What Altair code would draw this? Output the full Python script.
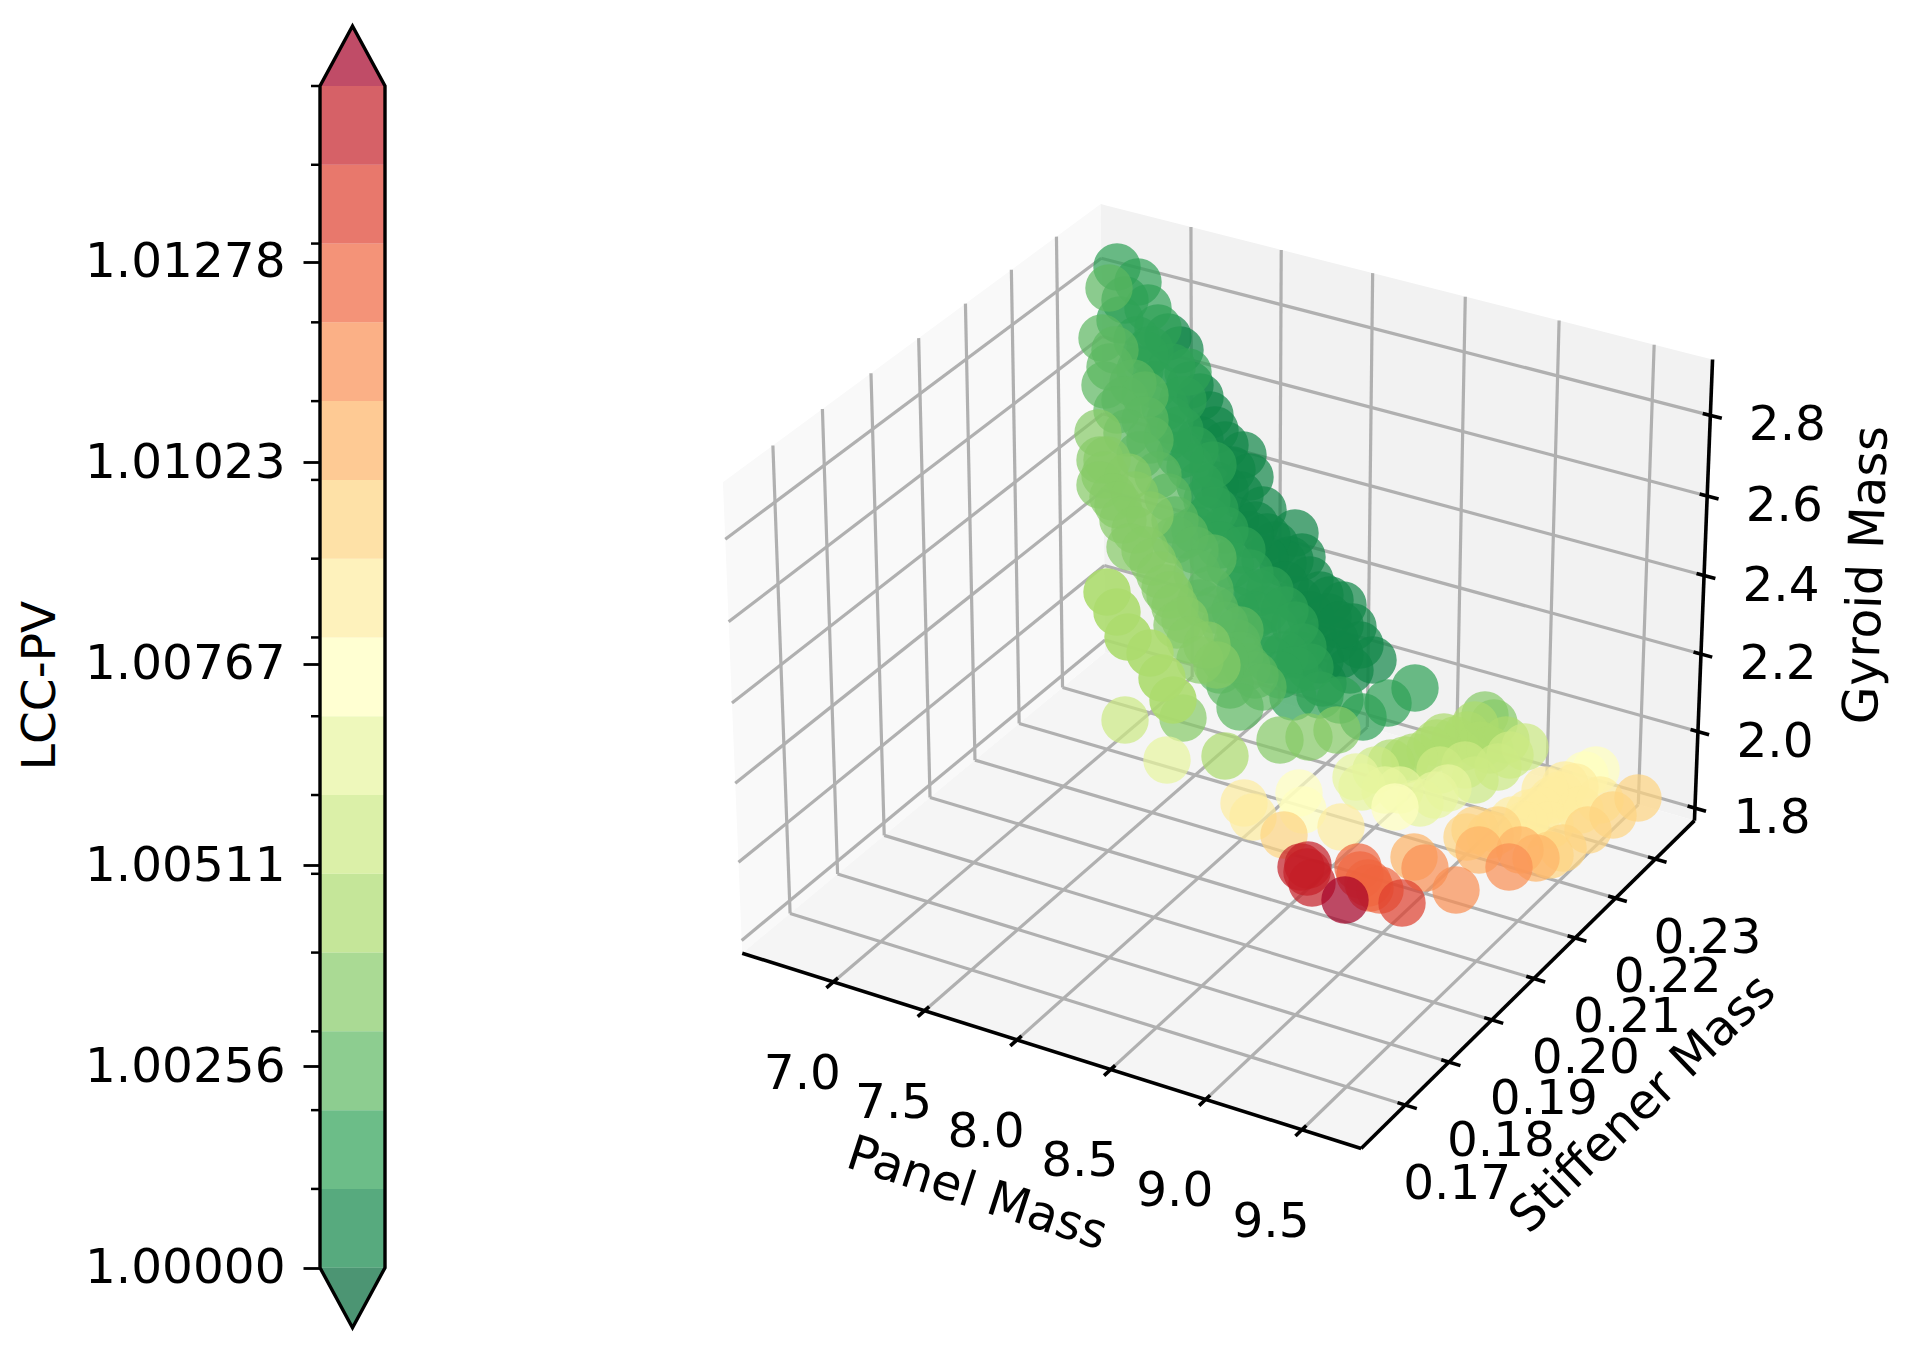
import altair as alt
import numpy as np
import pandas as pd

# ---------- data ----------
X_TICKS = [7.0, 7.5, 8.0, 8.5, 9.0, 9.5]
Y_TICKS = [0.17, 0.18, 0.19, 0.20, 0.21, 0.22, 0.23]
Z_TICKS = [1.8, 2.0, 2.2, 2.4, 2.6, 2.8]
X_LIM = (6.494, 9.804)
Y_LIM = (0.1601, 0.2400)
Z_LIM = (1.767, 2.937)

CB_MAJOR = [1.00000, 1.00256, 1.00511, 1.00767, 1.01023, 1.01278]
VMIN, VMAX = 1.0, 1.01501
N_BANDS = 15
STEP = (VMAX - VMIN) / N_BANDS
LEVELS = [VMIN + k * STEP for k in range(N_BANDS + 1)]
COLS = ["#006837", "#108647", "#2DA155", "#5CB861", "#86CB66", "#ACDC6E", "#CCE983", "#E7F59E", "#FFFFBF",
        "#FEEC9F", "#FED481", "#FDB466", "#F98E52", "#F0653F", "#DE3F2E", "#C41E27", "#A50026"]

# projected point positions (view-plane x, y), one pair of lists per colour band, back to front
b1_x = [1168,1180,1190,1200,1210,1215,1225,1243,1232,1250,1240,1263,1255,1295,1275,1302,1290,1283,1267,1265,1250,1235,1225,1215,1200,
        1310,1320,1343,1353,1328,1335,1313,1340,1360,1350,1323,1373,1298,1285,1310,1330,1340,1300,1320]
b1_y = [337,350,385,397,415,430,445,455,470,477,495,510,525,533,545,557,560,563,537,560,535,520,490,485,440,
        580,595,605,627,617,640,637,655,645,670,683,660,600,585,615,600,625,655,660]
b2_x = [1117,1138,1125,1120,1148,1158,1137,1150,1140,1188,1172,1145,1155,1165,1183,1170,1180,1195,1213,1190,1207,1200,1180,1207,1215,1195,1225,1220,
        1242,1250,1230,1240,1258,1265,1275,1270,1255,1285,1235,1255,1295,1303,1285,1270,1310,1295,1280,
        1415,1388,1363,1293,1167,1320,1340]
b2_y = [267,282,300,320,308,328,340,350,370,372,367,355,385,407,400,420,430,450,465,467,500,485,455,520,510,530,530,545,
        550,573,565,590,593,610,630,590,615,610,610,640,625,647,655,660,667,670,675,
        688,703,717,697,437,695,700]
b3_x = [1102,1115,1110,1105,1133,1125,1145,1117,1145,1127,1150,1140,1158,1168,1175,1185,1175,1195,1213,1197,1210,1200,1215,1225,1237,1240,1247,1255,1240,1263,1230,1225,1220,1240,1109]
b3_y = [338,350,367,385,383,400,395,410,420,433,440,455,475,497,520,535,540,550,558,573,590,603,610,625,643,630,667,675,655,687,685,660,670,707,288]
b4_x = [1098,1100,1107,1105,1100,1128,1113,1118,1135,1123,1135,1150,1130,1145,1153,1160,1165,1170,1175,1177,1185,1190,1207,1200,1217,1280,1309,1337,1183]
b4_y = [433,460,460,475,485,477,497,505,495,520,530,515,547,550,562,575,588,595,607,625,620,640,645,660,665,740,737,730,718]
b4b_x = [1485,1494]
b4b_y = [715,723]
b5_x = [1225,1475,1467,1506,1464,1455,1444,1437,1430,1414,1405,1391,1480,1490]
b5_y = [756,725,735,740,747,740,737,743,750,757,760,763,745,750]
b5s_x = [1173,1162,1150,1128,1117,1107]
b5s_y = [700,678,653,637,612,592]
b6_x = [1125,1525,1376,1498,1475,1510,1440,1465]
b6_y = [720,747,770,767,780,755,770,765]
b7_x = [1167,1356,1362,1448,1420,1400,1385,1435]
b7_y = [760,777,787,788,803,790,790,795]
b8_x = [1299,1303,1395,1596,1585]
b8_y = [793,810,807,770,775]
b9_x = [1244,1253,1341,1575,1565,1552,1560,1545,1540,1529,1513,1525,1580,1600,1550]
b9_y = [803,817,827,787,785,800,795,790,810,813,820,825,810,800,825]
b10_x = [1284,1498,1490,1467,1475,1638,1613,1588,1563,1550]
b10_y = [835,830,835,837,830,798,815,830,848,855]
b11_x = [1479,1520,1536,1414]
b11_y = [850,850,858,857]
b12_x = [1509,1425,1456]
b12_y = [867,868,890]
b13_x = [1358,1360,1368,1370,1380]
b13_y = [867,875,883,888,890]
b14_x = [1402]
b14_y = [903]
b15_x = [1301,1308,1307,1312]
b15_y = [867,865,872,883]
b16_x = [1345]
b16_y = [900]
# band, x list, y list, point opacity (front strand is drawn stronger in the picture)
GROUPS = [(1,b1_x,b1_y,0.7),(2,b2_x,b2_y,0.7),(3,b3_x,b3_y,0.7),(4,b4_x,b4_y,0.7),(4,b4b_x,b4b_y,0.7),(5,b5_x,b5_y,0.7),
          (5,b5s_x,b5s_y,0.9),(6,b6_x,b6_y,0.7),(7,b7_x,b7_y,0.7),
          (8,b8_x,b8_y,0.7),(9,b9_x,b9_y,0.7),(10,b10_x,b10_y,0.7),(11,b11_x,b11_y,0.7),(12,b12_x,b12_y,0.7),(13,b13_x,b13_y,0.7),
          (14,b14_x,b14_y,0.7),(15,b15_x,b15_y,0.7),(16,b16_x,b16_y,0.7)]

# ---------- layout ----------
CANVAS_W, CANVAS_H = 1894, 1330
OX, OY = 8, 8
# picture positions of the 3D box corners used to fit the view
BOX_FIT = [((0,0,0),(742,950)), ((1,0,0),(1361,1151)), ((1,1,0),(1695,818)),
           ((1,1,1),(1712,361)), ((0,1,1),(1101,201)), ((0,0,1),(723,487))]
Z_STRETCH = 0.77
CB_LEFT, CB_RIGHT, CB_TOP, CB_BOTTOM = 320, 385, 86, 1267.7
BAR_PX = (CB_BOTTOM - CB_TOP) / (VMAX - VMIN)
TIP = 60 / BAR_PX
FONT = "DejaVu Sans"
FS = 48.5
CB_FS = 48.5
TITLE_FS = 48.8


def raw(u, v, w):
    el, az = np.radians(30), np.radians(-60)
    n = np.array([np.cos(el)*np.cos(az), np.cos(el)*np.sin(az), np.sin(el)])
    e = 10 * n
    ux = np.cross([0, 0, 1], n); ux = ux / np.linalg.norm(ux)
    vx = np.cross(n, ux)
    p = np.array([u-.5, v-.5, (w-.5)*Z_STRETCH])
    d = np.dot(e - p, n)
    return np.dot(p, ux) / d, np.dot(p, vx) / d

A = []; bx = []; by = []
for c, s in BOX_FIT:
    a, b = raw(*c)
    A.append((a, b)); bx.append(s[0]); by.append(s[1])
A = np.array(A)
ax_, ox_ = np.linalg.lstsq(np.c_[A[:, 0], np.ones(6)], np.array(bx), rcond=None)[0]
ay_, oy_ = np.linalg.lstsq(np.c_[A[:, 1], np.ones(6)], np.array(by), rcond=None)[0]


def unit(u, v, w):
    a, b = raw(u, v, w)
    return float(ax_*a + ox_), float(ay_*b + oy_)


def norm(val, lim):
    return (val - lim[0]) / (lim[1] - lim[0])


SX = alt.Scale(domain=[OX, OX + CANVAS_W], range=[0, CANVAS_W], nice=False, zero=False)
SY = alt.Scale(domain=[OY, OY + CANVAS_H], range=[0, CANVAS_H], nice=False, zero=False)
CX = alt.Scale(domain=[0, 1], range=[CB_LEFT - OX, CB_RIGHT - OX], nice=False, zero=False)
CY = alt.Scale(domain=[VMIN, VMAX], range=[CB_BOTTOM - OY, CB_TOP - OY], nice=False, zero=False)


def px(f):
    return alt.X(f, type="quantitative", scale=SX, axis=None)


def py(f):
    return alt.Y(f, type="quantitative", scale=SY, axis=None)


def cx(f):
    return alt.X(f, type="quantitative", scale=CX, axis=None)


def cy(f):
    return alt.Y(f, type="quantitative", scale=CY, axis=None)


def area_of(verts):
    verts = np.array(verts, dtype=float)
    xs = np.unique(verts[:, 0])
    rows = []
    for x in xs:
        hits = []
        for i in range(len(verts)):
            p, q = verts[i], verts[(i+1) % len(verts)]
            lo, hi = min(p[0], q[0]), max(p[0], q[0])
            if lo <= x <= hi:
                if hi == lo:
                    hits += [p[1], q[1]]
                else:
                    hits.append(p[1] + (q[1]-p[1])*(x-p[0])/(q[0]-p[0]))
        rows.append({"x": x, "y": min(hits), "y2": max(hits)})
    return pd.DataFrame(rows)


def pane(corners, color):
    return alt.Chart(area_of([unit(*c) for c in corners])).mark_area(color=color, orient="vertical", opacity=1).encode(
        x=px("x"), y=py("y"), y2=alt.Y2("y2"))


def segs(pairs):
    rows = []
    for a, b in pairs:
        pa, pb = unit(*a), unit(*b)
        rows.append({"x": pa[0], "y": pa[1], "x2": pb[0], "y2": pb[1]})
    return pd.DataFrame(rows)


def rules(pairs, color, w):
    return alt.Chart(segs(pairs)).mark_rule(color=color, strokeWidth=w).encode(
        x=px("x"), y=py("y"), x2=alt.X2("x2"), y2=alt.Y2("y2"))


xu = [norm(v, X_LIM) for v in X_TICKS]
yu = [norm(v, Y_LIM) for v in Y_TICKS]
zu = [norm(v, Z_LIM) for v in Z_TICKS]

layers = [
    pane([(0,0,0),(0,1,0),(0,1,1),(0,0,1)], "#F9F9F9"),
    pane([(0,1,0),(1,1,0),(1,1,1),(0,1,1)], "#F2F2F2"),
    pane([(0,0,0),(1,0,0),(1,1,0),(0,1,0)], "#F5F5F5"),
]
grid = []
for x in xu:
    grid += [((x,0,0),(x,1,0)), ((x,1,0),(x,1,1))]
for y in yu:
    grid += [((0,y,0),(1,y,0)), ((0,y,0),(0,y,1))]
for z in zu:
    grid += [((0,0,z),(0,1,z)), ((0,1,z),(1,1,z))]
layers.append(rules(grid, "#B0B0B0", 3.2))

ticks = []
for x in xu:
    ticks.append(((x,0.012,0),(x,-0.018,0)))
for y in yu:
    ticks.append(((1-0.012,y,0),(1+0.018,y,0)))
for z in zu:
    ticks.append(((1-0.012,1,z),(1+0.018,1,z)))
layers.append(rules(ticks + [((0,0,0),(1,0,0)), ((1,0,0),(1,1,0)), ((1,1,0),(1,1,1))], "black", 3.6))

rows = []
for b, xs, ys, al in GROUPS:
    for x, y in zip(xs, ys):
        rows.append({"x": x, "y": y, "lcc": VMIN + (b - 0.5) * STEP, "alpha": al})
pts = pd.DataFrame(rows)
pts["o"] = range(len(pts))
layers.append(alt.Chart(pts).mark_circle(size=2250).encode(
    x=px("x"), y=py("y"), order="o:Q",
    opacity=alt.Opacity("alpha:Q", scale=None),
    color=alt.Color("lcc:Q", scale=alt.Scale(type="threshold", domain=LEVELS, range=COLS), legend=None)))


def labels(txts, poss, dx, dy):
    return alt.Chart(pd.DataFrame({"t": txts, "x": [p[0]+dx for p in poss], "y": [p[1]+dy for p in poss]})).mark_text(
        font=FONT, fontSize=FS, color="black", align="center", baseline="middle").encode(x=px("x"), y=py("y"), text="t:N")


layers.append(labels([f"{v:.1f}" for v in X_TICKS], [unit(x,0,0) for x in xu], -31, 92))
layers.append(labels([f"{v:.2f}" for v in Y_TICKS], [unit(1,y,0) for y in yu], 52, 79))
layers.append(labels([f"{v:.1f}" for v in Z_TICKS], [unit(1,1,z) for z in zu], 77, 10))


def title(t, x, y, ang):
    return alt.Chart(pd.DataFrame({"t": [t], "x": [x], "y": [y]})).mark_text(
        font=FONT, fontSize=TITLE_FS, color="black", align="center", baseline="middle", angle=ang).encode(
        x=px("x"), y=py("y"), text="t:N")


layers.append(title("Panel Mass", 977, 1194, 18))
layers.append(title("Stiffener Mass", 1643, 1104, 316))
layers.append(title("Gyroid Mass", 1867, 575, 272))

# ---------- colour bar ----------
bands = pd.DataFrame({"lo": LEVELS[:-1], "hi": LEVELS[1:]})
bands["lcc"] = (bands.lo + bands.hi) / 2
bands["a"] = 0.0
bands["b"] = 1.0
layers.append(alt.Chart(bands).mark_rect(opacity=0.7).encode(
    x=cx("a"), x2=alt.X2("b"), y=cy("lo"), y2=alt.Y2("hi"),
    color=alt.Color("lcc:Q", scale=alt.Scale(type="threshold", domain=LEVELS, range=COLS), legend=None)))

for edge, tip, col in [(VMAX, VMAX + TIP, COLS[-1]), (VMIN, VMIN - TIP, COLS[0])]:
    tri = pd.DataFrame({"a": [0, 0.5, 1], "y": [edge, tip, edge], "y2": [edge] * 3})
    layers.append(alt.Chart(tri).mark_area(color=col, opacity=0.7, orient="vertical").encode(
        x=cx("a"), y=cy("y"), y2=alt.Y2("y2")))

outline = pd.DataFrame({
    "a": [0, 0.5, 1, 1, 0.5, 0, 0],
    "y": [VMIN, VMIN - TIP, VMIN, VMAX, VMAX + TIP, VMAX, VMIN],
    "o": range(7)})
layers.append(alt.Chart(outline).mark_line(color="black", strokeWidth=3.4).encode(
    x=cx("a"), y=cy("y"), order="o:Q"))

minor = pd.DataFrame({"v": LEVELS[1:], "a": [-9 / (CB_RIGHT - CB_LEFT)] * N_BANDS, "b": [0.0] * N_BANDS})
layers.append(alt.Chart(minor).mark_rule(color="black", strokeWidth=2.5).encode(
    x=cx("a"), x2=alt.X2("b"), y=cy("v")))

axis_src = pd.DataFrame({"v": CB_MAJOR})
layers.append(alt.Chart(axis_src).mark_rule(opacity=0).encode(
    y=alt.Y("v:Q", scale=CY, axis=alt.Axis(
        orient="left", offset=-(CB_LEFT - OX), values=CB_MAJOR, format=".5f", grid=False, domain=False,
        tickSize=17, tickWidth=2.8, tickColor="black",
        labelFont=FONT, labelFontSize=CB_FS, labelColor="black", labelPadding=18, labelBound=False, labelOverlap=False,
        labelLimit=400,
        title="LCC-PV", titleFont=FONT, titleFontSize=47, titleFontWeight="normal", titleColor="black",
        titleX=-(CB_LEFT - 40), titleY=685 - OY, titleAngle=270, titleAlign="center", titleBaseline="middle"))))

chart = alt.layer(*layers).resolve_scale(x="independent", y="independent", color="shared").properties(
    width=CANVAS_W, height=CANVAS_H, padding=0,
    autosize=alt.AutoSizeParams(type="none")).configure_view(stroke=None)

chart.save("out.html", embed_options={"renderer": "svg", "actions": False})
